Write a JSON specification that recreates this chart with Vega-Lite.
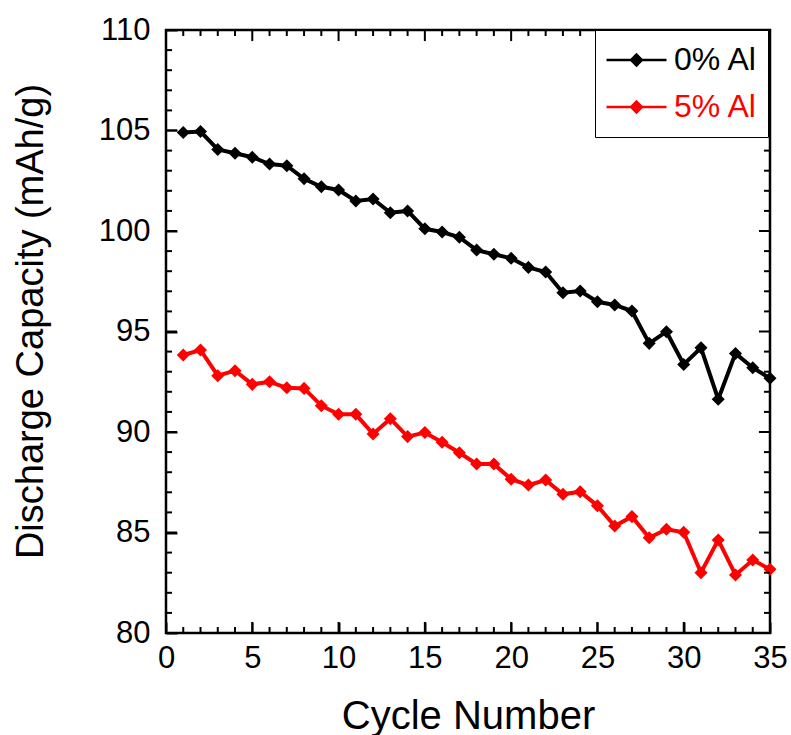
{
  "$schema": "https://vega.github.io/schema/vega-lite/v6.json",
  "autosize": "none",
  "width": 604,
  "height": 603,
  "padding": {"left": 166, "top": 30, "right": 21, "bottom": 102},
  "background": "white",
  "config": {
    "view": {"stroke": "black", "strokeWidth": 2.5},
    "font": "Liberation Sans",
    "axis": {"domain": false, "grid": false, "labelFlush": false, "labelOverlap": false}
  },
  "datasets": {
    "cycling": [
      {"cycle": 1, "capacity": 104.9, "sample": "0% Al"},
      {"cycle": 2, "capacity": 104.95, "sample": "0% Al"},
      {"cycle": 3, "capacity": 104.06, "sample": "0% Al"},
      {"cycle": 4, "capacity": 103.87, "sample": "0% Al"},
      {"cycle": 5, "capacity": 103.67, "sample": "0% Al"},
      {"cycle": 6, "capacity": 103.33, "sample": "0% Al"},
      {"cycle": 7, "capacity": 103.25, "sample": "0% Al"},
      {"cycle": 8, "capacity": 102.6, "sample": "0% Al"},
      {"cycle": 9, "capacity": 102.2, "sample": "0% Al"},
      {"cycle": 10, "capacity": 102.04, "sample": "0% Al"},
      {"cycle": 11, "capacity": 101.49, "sample": "0% Al"},
      {"cycle": 12, "capacity": 101.59, "sample": "0% Al"},
      {"cycle": 13, "capacity": 100.91, "sample": "0% Al"},
      {"cycle": 14, "capacity": 101.0, "sample": "0% Al"},
      {"cycle": 15, "capacity": 100.11, "sample": "0% Al"},
      {"cycle": 16, "capacity": 99.95, "sample": "0% Al"},
      {"cycle": 17, "capacity": 99.69, "sample": "0% Al"},
      {"cycle": 18, "capacity": 99.05, "sample": "0% Al"},
      {"cycle": 19, "capacity": 98.84, "sample": "0% Al"},
      {"cycle": 20, "capacity": 98.64, "sample": "0% Al"},
      {"cycle": 21, "capacity": 98.19, "sample": "0% Al"},
      {"cycle": 22, "capacity": 97.96, "sample": "0% Al"},
      {"cycle": 23, "capacity": 96.93, "sample": "0% Al"},
      {"cycle": 24, "capacity": 97.01, "sample": "0% Al"},
      {"cycle": 25, "capacity": 96.48, "sample": "0% Al"},
      {"cycle": 26, "capacity": 96.32, "sample": "0% Al"},
      {"cycle": 27, "capacity": 96.02, "sample": "0% Al"},
      {"cycle": 28, "capacity": 94.41, "sample": "0% Al"},
      {"cycle": 29, "capacity": 94.99, "sample": "0% Al"},
      {"cycle": 30, "capacity": 93.36, "sample": "0% Al"},
      {"cycle": 31, "capacity": 94.19, "sample": "0% Al"},
      {"cycle": 32, "capacity": 91.63, "sample": "0% Al"},
      {"cycle": 33, "capacity": 93.91, "sample": "0% Al"},
      {"cycle": 34, "capacity": 93.2, "sample": "0% Al"},
      {"cycle": 35, "capacity": 92.67, "sample": "0% Al"},
      {"cycle": 1, "capacity": 93.83, "sample": "5% Al"},
      {"cycle": 2, "capacity": 94.08, "sample": "5% Al"},
      {"cycle": 3, "capacity": 92.8, "sample": "5% Al"},
      {"cycle": 4, "capacity": 93.05, "sample": "5% Al"},
      {"cycle": 5, "capacity": 92.37, "sample": "5% Al"},
      {"cycle": 6, "capacity": 92.5, "sample": "5% Al"},
      {"cycle": 7, "capacity": 92.2, "sample": "5% Al"},
      {"cycle": 8, "capacity": 92.17, "sample": "5% Al"},
      {"cycle": 9, "capacity": 91.31, "sample": "5% Al"},
      {"cycle": 10, "capacity": 90.88, "sample": "5% Al"},
      {"cycle": 11, "capacity": 90.88, "sample": "5% Al"},
      {"cycle": 12, "capacity": 89.9, "sample": "5% Al"},
      {"cycle": 13, "capacity": 90.66, "sample": "5% Al"},
      {"cycle": 14, "capacity": 89.77, "sample": "5% Al"},
      {"cycle": 15, "capacity": 89.97, "sample": "5% Al"},
      {"cycle": 16, "capacity": 89.49, "sample": "5% Al"},
      {"cycle": 17, "capacity": 88.97, "sample": "5% Al"},
      {"cycle": 18, "capacity": 88.41, "sample": "5% Al"},
      {"cycle": 19, "capacity": 88.41, "sample": "5% Al"},
      {"cycle": 20, "capacity": 87.65, "sample": "5% Al"},
      {"cycle": 21, "capacity": 87.36, "sample": "5% Al"},
      {"cycle": 22, "capacity": 87.61, "sample": "5% Al"},
      {"cycle": 23, "capacity": 86.9, "sample": "5% Al"},
      {"cycle": 24, "capacity": 87.03, "sample": "5% Al"},
      {"cycle": 25, "capacity": 86.33, "sample": "5% Al"},
      {"cycle": 26, "capacity": 85.32, "sample": "5% Al"},
      {"cycle": 27, "capacity": 85.79, "sample": "5% Al"},
      {"cycle": 28, "capacity": 84.74, "sample": "5% Al"},
      {"cycle": 29, "capacity": 85.16, "sample": "5% Al"},
      {"cycle": 30, "capacity": 85.01, "sample": "5% Al"},
      {"cycle": 31, "capacity": 83.0, "sample": "5% Al"},
      {"cycle": 32, "capacity": 84.63, "sample": "5% Al"},
      {"cycle": 33, "capacity": 82.89, "sample": "5% Al"},
      {"cycle": 34, "capacity": 83.63, "sample": "5% Al"},
      {"cycle": 35, "capacity": 83.17, "sample": "5% Al"}
    ],
    "xMajor": [{"tick": 5}, {"tick": 10}, {"tick": 15}, {"tick": 20}, {"tick": 25}, {"tick": 30}],
    "xMinor": [{"tick": 1}, {"tick": 2}, {"tick": 3}, {"tick": 4}, {"tick": 6}, {"tick": 7}, {"tick": 8}, {"tick": 9}, {"tick": 11}, {"tick": 12}, {"tick": 13}, {"tick": 14}, {"tick": 16}, {"tick": 17}, {"tick": 18}, {"tick": 19}, {"tick": 21}, {"tick": 22}, {"tick": 23}, {"tick": 24}, {"tick": 26}, {"tick": 27}, {"tick": 28}, {"tick": 29}, {"tick": 31}, {"tick": 32}, {"tick": 33}, {"tick": 34}],
    "yMajor": [{"tick": 85}, {"tick": 90}, {"tick": 95}, {"tick": 100}, {"tick": 105}],
    "yMinor": [{"tick": 81}, {"tick": 82}, {"tick": 83}, {"tick": 84}, {"tick": 86}, {"tick": 87}, {"tick": 88}, {"tick": 89}, {"tick": 91}, {"tick": 92}, {"tick": 93}, {"tick": 94}, {"tick": 96}, {"tick": 97}, {"tick": 98}, {"tick": 99}, {"tick": 101}, {"tick": 102}, {"tick": 103}, {"tick": 104}, {"tick": 106}, {"tick": 107}, {"tick": 108}, {"tick": 109}]
  },
  "data": {"name": "cycling"},
  "layer": [
    {
      "mark": {"type": "line", "strokeWidth": 4},
      "encoding": {
        "x": {
          "field": "cycle", "type": "quantitative",
          "scale": {"domain": [0, 35], "nice": false, "zero": false},
          "axis": {
            "orient": "bottom", "offset": -11,
            "values": [0, 5, 10, 15, 20, 25, 30, 35],
            "tickSize": 11, "tickColor": "#000000", "tickWidth": 2,
            "labelFont": "Liberation Sans", "labelFontSize": 31, "labelColor": "black",
            "labelPadding": 10,
            "title": "Cycle Number",
            "titleFont": "Liberation Sans", "titleFontSize": 40, "titleFontWeight": "normal", "titleColor": "black",
            "titleX": 302, "titleY": 106, "titleBaseline": "alphabetic", "titleAlign": "center"
          }
        },
        "y": {
          "field": "capacity", "type": "quantitative",
          "scale": {"domain": [80, 110], "nice": false, "zero": false},
          "axis": {
            "orient": "left", "offset": -11,
            "values": [80, 85, 90, 95, 100, 105, 110],
            "tickSize": 11, "tickColor": "#000000", "tickWidth": 2,
            "labelFont": "Liberation Sans", "labelFontSize": 31, "labelColor": "black",
            "labelPadding": 16,
            "title": "Discharge Capacity (mAh/g)",
            "titleFont": "Liberation Sans", "titleFontSize": 38, "titleFontWeight": "normal", "titleColor": "black",
            "titleAngle": -90, "titleX": -135, "titleY": 291, "titleBaseline": "alphabetic", "titleAlign": "center"
          }
        },
        "color": {
          "field": "sample", "type": "nominal",
          "scale": {"domain": ["0% Al", "5% Al"], "range": ["#000000", "#ff0000"]},
          "legend": {
            "orient": "none", "legendX": 429, "legendY": 0,
            "title": null,
            "symbolType": "M-1,0H1M0,-0.18L0.18,0L0,0.18L-0.18,0Z",
            "symbolSize": 3600,
            "symbolStrokeWidth": 2.5,
            "labelFont": "Liberation Sans", "labelFontSize": 32,
            "labelColor": {"expr": "datum.value == '5% Al' ? '#ff0000' : '#000000'"},
            "labelOffset": 6,
            "strokeColor": "black", "fillColor": "white",
            "padding": 10, "rowPadding": 7, "clipHeight": 40,
            "encode": {
              "symbols": {
                "update": {
                  "fill": {"scale": "color", "field": "value"},
                  "stroke": {"scale": "color", "field": "value"}
                }
              }
            }
          }
        }
      }
    },
    {
      "mark": {"type": "point", "shape": "diamond", "filled": true, "size": 170, "opacity": 1},
      "encoding": {
        "x": {"field": "cycle", "type": "quantitative"},
        "y": {"field": "capacity", "type": "quantitative"},
        "color": {"field": "sample", "type": "nominal"}
      }
    },
    {
      "data": {"name": "xMajor"},
      "mark": {"type": "rule", "color": "black", "strokeWidth": 2},
      "encoding": {
        "x": {"field": "tick", "type": "quantitative"},
        "y": {"datum": 80, "type": "quantitative"},
        "y2": {"datum": 80.55}
      }
    },
    {
      "data": {"name": "xMajor"},
      "mark": {"type": "rule", "color": "black", "strokeWidth": 2},
      "encoding": {
        "x": {"field": "tick", "type": "quantitative"},
        "y": {"datum": 110, "type": "quantitative"},
        "y2": {"datum": 109.45}
      }
    },
    {
      "data": {"name": "xMinor"},
      "mark": {"type": "rule", "color": "black", "strokeWidth": 2},
      "encoding": {
        "x": {"field": "tick", "type": "quantitative"},
        "y": {"datum": 80, "type": "quantitative"},
        "y2": {"datum": 80.3}
      }
    },
    {
      "data": {"name": "xMinor"},
      "mark": {"type": "rule", "color": "black", "strokeWidth": 2},
      "encoding": {
        "x": {"field": "tick", "type": "quantitative"},
        "y": {"datum": 110, "type": "quantitative"},
        "y2": {"datum": 109.7}
      }
    },
    {
      "data": {"name": "yMajor"},
      "mark": {"type": "rule", "color": "black", "strokeWidth": 2},
      "encoding": {
        "y": {"field": "tick", "type": "quantitative"},
        "x": {"datum": 0, "type": "quantitative"},
        "x2": {"datum": 0.64}
      }
    },
    {
      "data": {"name": "yMajor"},
      "mark": {"type": "rule", "color": "black", "strokeWidth": 2},
      "encoding": {
        "y": {"field": "tick", "type": "quantitative"},
        "x": {"datum": 35, "type": "quantitative"},
        "x2": {"datum": 34.36}
      }
    },
    {
      "data": {"name": "yMinor"},
      "mark": {"type": "rule", "color": "black", "strokeWidth": 2},
      "encoding": {
        "y": {"field": "tick", "type": "quantitative"},
        "x": {"datum": 0, "type": "quantitative"},
        "x2": {"datum": 0.35}
      }
    },
    {
      "data": {"name": "yMinor"},
      "mark": {"type": "rule", "color": "black", "strokeWidth": 2},
      "encoding": {
        "y": {"field": "tick", "type": "quantitative"},
        "x": {"datum": 35, "type": "quantitative"},
        "x2": {"datum": 34.65}
      }
    }
  ]
}
